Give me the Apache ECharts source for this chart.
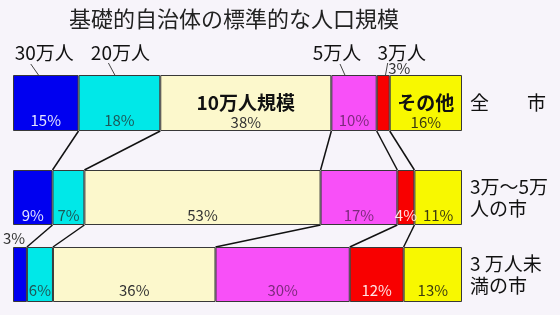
<!DOCTYPE html>
<html><head><meta charset="utf-8">
<script src="https://cdn.jsdelivr.net/npm/echarts@6/dist/echarts.min.js"></script>
<style>html,body{margin:0;padding:0;background:#f7f4fa;}#c{width:560px;height:315px;}</style>
</head><body><div id="c"></div>
<script>
// ---- data ----
const chartTitle = '基礎的自治体の標準的な人口規模';
const segmentNames = ['30万人', '20万人', '10万人規模', '5万人', '3万人', 'その他'];
const rowNames = ['全\u3000\u3000市', '3万～5万\n人の市', '3 万人未\n満の市'];
const allCities = [14.6, 18.2, 38.1, 10.1, 2.9, 16.1];
const midCities = [8.8, 7.1, 52.6, 17.1, 3.8, 10.6];
const smallCities = [3.1, 5.8, 36.2, 29.9, 12.0, 13.0];
const rows = [allCities, midCities, smallCities];

// ---- style ----
const FONT = '"Noto Sans CJK JP", "Noto Sans", sans-serif';
const colors = ['#0000f0', '#00e8e8', '#fcf8cc', '#f850f8', '#f80000', '#f8f800'];
const labelColors = ['#e4e4ff', '#1c5858', '#333333', '#7c2a7c', '#ffe4e4', '#3c3c10'];
const grids = [{top: 75, height: 56}, {top: 170, height: 55}, {top: 247, height: 55}];
const LEFT = 13, RIGHT = 98;
const labelY = [45, 45, 43];

const pct = v => Math.round(v) + '%';

const series = [];
rows.forEach((row, r) => {
  row.forEach((v, s) => {
    let label = {
      show: true, position: ['50%', labelY[r]], align: 'center', verticalAlign: 'middle',
      fontFamily: FONT, fontSize: 15, color: labelColors[s],
      formatter: p => pct(p.value)
    };
    if (r === 0 && (s === 2 || s === 5)) {
      label.position = ['50%', 36.5];
      label.formatter = p => '{n|' + segmentNames[s] + '}\n{p|' + pct(p.value) + '}';
      label.rich = {
        n: {fontFamily: FONT, fontSize: 19, fontWeight: 'bold', color: '#111', lineHeight: 22, align: 'center'},
        p: {fontFamily: FONT, fontSize: 15, color: labelColors[s], lineHeight: 17, align: 'center'}
      };
    }
    if (r === 0 && s === 4) {
      label.position = ['50%', -7];
      label.offset = [16, 0];
      label.color = '#333';
    }
    if (r === 2 && s === 0) {
      label.position = ['50%', -9];
      label.offset = [-6, 0];
      label.color = '#333';
    }
    series.push({
      type: 'bar', xAxisIndex: r, yAxisIndex: r, stack: 'row' + r,
      barWidth: '100%', data: [v], silent: true, animation: false,
      itemStyle: {color: colors[s], borderColor: '#383838', borderWidth: 1},
      label: label
    });
  });
});

const chart = echarts.init(document.getElementById('c'), null, {renderer: 'canvas'});
chart.setOption({
  backgroundColor: '#f7f4fa',
  animation: false,
  title: {
    text: chartTitle, left: 229, top: 3, textAlign: 'center',
    textStyle: {fontFamily: FONT, fontSize: 22, fontWeight: 'normal', color: '#222'}
  },
  grid: grids.map(g => ({left: LEFT, right: RIGHT, top: g.top, height: g.height, containLabel: false})),
  xAxis: grids.map((g, i) => ({type: 'value', gridIndex: i, min: 0, max: 100, show: false})),
  yAxis: grids.map((g, i) => ({
    type: 'category', gridIndex: i, data: [rowNames[i]], position: 'right',
    axisLine: {show: false}, axisTick: {show: false}, splitLine: {show: false},
    axisLabel: {margin: 8, fontFamily: FONT, fontSize: 19, color: '#111', lineHeight: 22, align: 'left'}
  })),
  series: series
});

// ---- annotations derived from the data ----
const graphics = [];
function cumulative(row) { const c = [0]; row.forEach(v => c.push(c[c.length - 1] + v)); return c; }
const cums = rows.map(cumulative);
const px = (r, v) => chart.convertToPixel({xAxisIndex: r}, v);

// connectors between consecutive bars at segment boundaries
for (let r = 0; r < rows.length - 1; r++) {
  const y1 = grids[r].top + grids[r].height;
  const y2 = grids[r + 1].top;
  for (let k = 1; k < rows[r].length; k++) {
    graphics.push({
      type: 'line', silent: true,
      shape: {x1: px(r, cums[r][k]), y1: y1, x2: px(r + 1, cums[r + 1][k]), y2: y2},
      style: {stroke: '#111', lineWidth: 1.5}
    });
  }
}

// category labels above the first bar with leader lines
const topLabels = [
  {seg: 0, dx: -1.5, lead: [-15, 64, -1, 84]},
  {seg: 1, dx: 1, lead: [-11, 63, 4, 91]},
  {seg: 3, dx: -17, lead: [-14, 64, -2, 91]},
  {seg: 4, dx: 18.5, lead: null}
];
topLabels.forEach(t => {
  const cx = px(0, cums[0][t.seg] + rows[0][t.seg] / 2);
  graphics.push({
    type: 'text', silent: true, x: cx + t.dx, y: 53,
    style: {text: segmentNames[t.seg], fontFamily: FONT, fontSize: 19, fill: '#111',
            textAlign: 'center', textVerticalAlign: 'middle'}
  });
  if (t.lead) {
    graphics.push({
      type: 'line', silent: true,
      shape: {x1: cx + t.lead[0], y1: t.lead[1], x2: cx + t.lead[2], y2: t.lead[3]},
      style: {stroke: '#444', lineWidth: 1}
    });
  }
});
// leader for the small 3% label
{
  const cx = px(0, cums[0][4] + rows[0][4] / 2);
  graphics.push({
    type: 'line', silent: true,
    shape: {x1: cx + 4.5, y1: 63, x2: cx + 0.5, y2: 85},
    style: {stroke: '#444', lineWidth: 1}
  });
}
chart.setOption({graphic: graphics});
</script>
</body></html>
